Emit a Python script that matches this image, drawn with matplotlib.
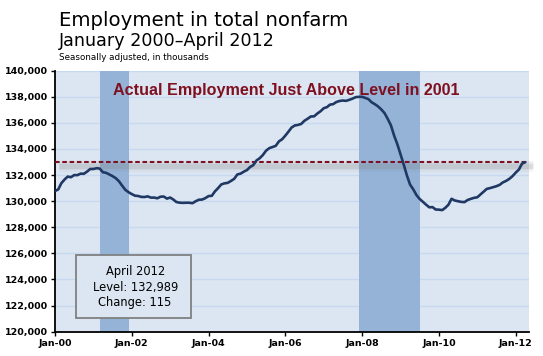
import matplotlib
matplotlib.use("Agg")
import matplotlib.pyplot as plt
import matplotlib.dates as mdates
from matplotlib.patches import Rectangle
from matplotlib.transforms import offset_copy
import numpy as np
import pandas as pd

# monthly total nonfarm employment, thousands, Jan 2000 - Apr 2012
emp = [
    130781, 130902, 131375, 131661, 131885, 131839, 132000, 131998, 132112, 132098, 132268, 132469,
    132469, 132530, 132500, 132219, 132175, 132047, 131923, 131766, 131522, 131187, 130865, 130687,
    130540, 130420, 130400, 130330, 130320, 130370, 130273, 130279, 130223, 130345, 130356, 130198,
    130279, 130121, 129936, 129886, 129873, 129883, 129883, 129847, 129999, 130112, 130125, 130233,
    130391, 130413, 130746, 131004, 131284, 131368, 131404, 131550, 131713, 132049, 132114, 132261,
    132390, 132631, 132759, 133120, 133290, 133540, 133870, 134065, 134157, 134240, 134586, 134745,
    135030, 135345, 135645, 135805, 135843, 135923, 136162, 136321, 136494, 136501, 136718, 136889,
    137124, 137209, 137397, 137439, 137601, 137681, 137715, 137690, 137768, 137856, 137972, 137998,
    137996, 137913, 137824, 137577, 137437, 137259, 137035, 136757, 136305, 135816, 135019, 134373,
    133589, 132786, 132003, 131278, 130916, 130472, 130175, 129953, 129733, 129533, 129546, 129362,
    129353, 129316, 129480, 129725, 130183, 130056, 129998, 129947, 129929, 130092, 130181, 130256,
    130300, 130520, 130725, 130942, 131000, 131076, 131146, 131250, 131438, 131550, 131707, 131910,
    132185, 132425, 132874, 132989,
]
months = pd.date_range("2000-01-01", periods=len(emp), freq="MS")

recessions = [("2001-03-01", "2001-12-01"), ("2007-12-01", "2009-07-01")]
latest_label = "April 2012"
latest_level = 132989
latest_change = 115

BG = "#dce6f2"
GRID = "#c6d9f1"
BAND = "#95b3d7"
LINE = "#1f3864"
RED = "#7f1020"

fig = plt.figure(figsize=(5.43, 3.56), dpi=100)
ax = fig.add_axes([0.1013, 0.0683, 0.8735, 0.7331])
ax.set_facecolor(BG)

# recession bands
for start, end in recessions:
    ax.axvspan(pd.Timestamp(start), pd.Timestamp(end), color=BAND, lw=0, zorder=1)

ax.set_ylim(120000, 140000)
ax.set_xlim(pd.Timestamp("2000-01-01"), pd.Timestamp("2012-05-10"))
ax.set_yticks(np.arange(120000, 140001, 2000))
ax.yaxis.grid(True, color=GRID, lw=1.0)
ax.set_axisbelow(True)
ax.yaxis.set_major_formatter(plt.FuncFormatter(lambda v, p: f"{int(v):,}"))

ax.xaxis.set_major_locator(mdates.YearLocator(2))
ax.xaxis.set_major_formatter(mdates.DateFormatter("Jan-%y"))

for s in ["top", "right"]:
    ax.spines[s].set_visible(False)
for s in ["left", "bottom"]:
    ax.spines[s].set_linewidth(1.3)
ax.tick_params(axis="both", length=3, width=1, labelsize=6.8, pad=2)
for lab in ax.get_xticklabels() + ax.get_yticklabels():
    lab.set_fontweight("bold")

# level line with a soft shadow
xr = [months[0], pd.Timestamp("2012-05-10")]
shadow = offset_copy(ax.transData, fig=fig, x=4, y=-4, units="dots")
for lw, a in [(8, 0.07), (5.5, 0.09), (3.5, 0.14)]:
    ax.plot(xr, [latest_level] * 2, color="gray", lw=lw, alpha=a,
            transform=shadow, clip_on=False, solid_capstyle="butt", zorder=2)
ax.plot(xr, [latest_level] * 2, color=RED, lw=1.5, dashes=(2.2, 1.3), zorder=3)

ax.plot(months, emp, color=LINE, lw=1.9, zorder=4, solid_capstyle="round")

ax.text(0.122, 0.905, "Actual Employment Just Above Level in 2001", transform=ax.transAxes,
        color=RED, fontsize=11.6, fontweight="bold", family="Liberation Sans",
        va="baseline", ha="left", zorder=5)

# info box
ax.add_patch(Rectangle((0.0443, 0.0525), 0.2434, 0.2413, transform=ax.transAxes,
                       fc=BG, ec="#7f7f7f", lw=1.3, zorder=6))
box_lines = [latest_label, f"Level: {latest_level:,}", f"Change: {latest_change}"]
for txt, yy in zip(box_lines, [0.230, 0.170, 0.111]):
    ax.text(0.169, yy, txt, transform=ax.transAxes, ha="center", va="center",
            fontsize=8.3, zorder=7)

fig.text(0.1087, 1 - 25.5 / 356, "Employment in total nonfarm", fontsize=14.2,
         va="baseline", ha="left")
fig.text(0.1087, 1 - 45.5 / 356, "January 2000\u2013April 2012", fontsize=12.6,
         va="baseline", ha="left")
fig.text(0.1087, 1 - 60 / 356, "Seasonally adjusted, in thousands", fontsize=6.3,
         va="baseline", ha="left")

fig.savefig("out.png", dpi=100)
